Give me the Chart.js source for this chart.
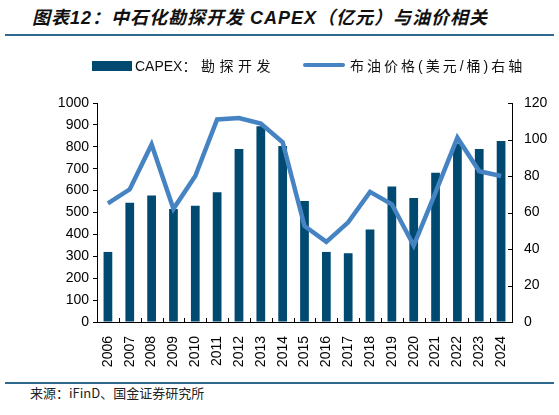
<!DOCTYPE html>
<html>
<head>
<meta charset="utf-8">
<script src="https://cdn.jsdelivr.net/npm/chart.js@4.4.1/dist/chart.umd.min.js"></script>
<style>
  body { margin: 0; width: 559px; height: 415px; background: #fff; position: relative; overflow: hidden;
         font-family: "Liberation Sans", "Noto Sans CJK SC", sans-serif; }
  #title { position: absolute; left: 32px; top: 3px; font-size: 18px; font-weight: bold; font-style: italic;
           letter-spacing: 1px; color: #111; white-space: nowrap; }
  .rule { position: absolute; left: 5px; width: 549px; height: 2px; background: #2d6a8e; }
  #source { position: absolute; left: 30px; top: 383px; font-size: 13px; color: #222;
            font-family: "Noto Sans CJK SC", sans-serif; }
  #wrap { position: absolute; left: 0; top: 40px; width: 559px; height: 340px; }
  .lg { position: absolute; top: 56px; font-size: 14px; line-height: 20px; color: #111; white-space: nowrap; }
  .lg .cjk { letter-spacing: 3px; }
  #lgBar .cjk { letter-spacing: 4.5px; }
  .sw { position: absolute; }
</style>
</head>
<body>
<div id="title">图表12：中石化勘探开发 CAPEX（亿元）与油价相关</div>
<div class="rule" style="top:34px"></div>
<div id="wrap"><canvas id="chart"></canvas></div>
<div class="sw" id="swBar" style="left:92px;top:61px;width:40px;height:10px"></div>
<div class="lg" id="lgBar" style="left:135px"></div>
<div class="sw" id="swLine" style="left:303px;top:63px;width:42px;height:4px;border-radius:2px"></div>
<div class="lg" id="lgLine" style="left:350px"></div>
<div class="rule" style="top:382px"></div>
<div id="source">来源：iFinD、国金证券研究所</div>

<script>
// years on the x axis
const years = ['2006', '2007', '2008', '2009', '2010', '2011', '2012', '2013', '2014', '2015',
               '2016', '2017', '2018', '2019', '2020', '2021', '2022', '2023', '2024'];

// Sinopec E&P capex, 100m CNY (left axis)
const capex = [320, 545, 578, 516, 531, 592, 790, 894, 804, 552,
               320, 314, 422, 619, 566, 681, 815, 790, 826];

// Brent price, USD/bbl (right axis)
const brent = [65, 72.7, 97.3, 62, 80, 111, 111.8, 108.7, 98.5, 52.6,
               43.9, 54.6, 71.3, 64.5, 41.9, 71, 101, 82.6, 80];

const leftTicks = [0, 1000, 100];
const rightTicks = [0, 120, 20];

const seriesNames = ['CAPEX：勘探开发', '布油价格(美元/桶)右轴'];

const BAR = '#004a71';
const LINE = '#4683c3';
const FONT = '"Liberation Sans", "Noto Sans CJK SC", sans-serif';

// legend built as html so it can sit where the original one is
document.getElementById('swBar').style.background = BAR;
document.getElementById('swLine').style.background = LINE;
document.getElementById('lgBar').innerHTML = 'CAPEX<span class="cjk">：勘探开发</span>';
document.getElementById('lgLine').innerHTML = '<span class="cjk">' + seriesNames[1] + '</span>';

// small tick marks pointing into the plot (x axis boundaries, right axis)
const innerTicks = {
    id: 'innerTicks',
    afterDatasetsDraw(chart) {
        const ctx = chart.ctx;
        const yr = chart.scales.y1;
        const area = chart.chartArea;
        ctx.save();
        ctx.strokeStyle = '#000';
        ctx.lineWidth = 1;
        ctx.beginPath();
        const step = (area.right - area.left) / years.length;
        for (let i = 1; i < years.length; i++) {
            const px = Math.round(area.left + i * step) + 0.5;
            ctx.moveTo(px, area.bottom);
            ctx.lineTo(px, area.bottom - 4);
        }
        yr.ticks.forEach(t => {
            const py = Math.round(yr.getPixelForValue(t.value)) + 0.5;
            ctx.moveTo(area.right, py);
            ctx.lineTo(area.right - 4, py);
        });
        ctx.stroke();
        ctx.restore();
    }
};

new Chart(document.getElementById('chart'), {
    data: {
        labels: years,
        datasets: [
            {
                type: 'line',
                label: seriesNames[1],
                data: brent,
                yAxisID: 'y1',
                borderColor: LINE,
                backgroundColor: LINE,
                borderWidth: 4.5,
                pointRadius: 0,
                tension: 0,
                order: 0
            },
            {
                type: 'bar',
                label: seriesNames[0],
                data: capex,
                yAxisID: 'y',
                backgroundColor: BAR,
                borderWidth: 0,
                barPercentage: 0.4,
                categoryPercentage: 1,
                order: 1
            }
        ]
    },
    options: {
        responsive: true,
        maintainAspectRatio: false,
        animation: false,
        layout: { padding: { left: 0, right: 0, top: 63, bottom: 0 } },
        plugins: {
            legend: { display: false },
            tooltip: { enabled: false }
        },
        scales: {
            x: {
                offset: true,
                grid: { display: false },
                border: { color: '#000', width: 1 },
                ticks: {
                    color: '#000', minRotation: 90, maxRotation: 90, padding: 6,
                    font: { family: FONT, size: 14 }
                },
                afterFit(s) { s.height = 58; }
            },
            y: {
                position: 'left',
                min: leftTicks[0], max: leftTicks[1],
                ticks: {
                    stepSize: leftTicks[2], color: '#000', padding: 4,
                    font: { family: FONT, size: 14 },
                    callback: v => String(v)
                },
                grid: { drawOnChartArea: false, tickLength: 4, color: '#000' },
                border: { color: '#000', width: 1 },
                afterFit(s) { s.width = 97; }
            },
            y1: {
                position: 'right',
                min: rightTicks[0], max: rightTicks[1],
                ticks: { stepSize: rightTicks[2], color: '#000', padding: 12, font: { family: FONT, size: 14 } },
                grid: { drawOnChartArea: false, drawTicks: false },
                border: { color: '#000', width: 1 },
                afterFit(s) { s.width = 559 - 512; }
            }
        }
    },
    plugins: [innerTicks]
});
</script>
</body>
</html>
